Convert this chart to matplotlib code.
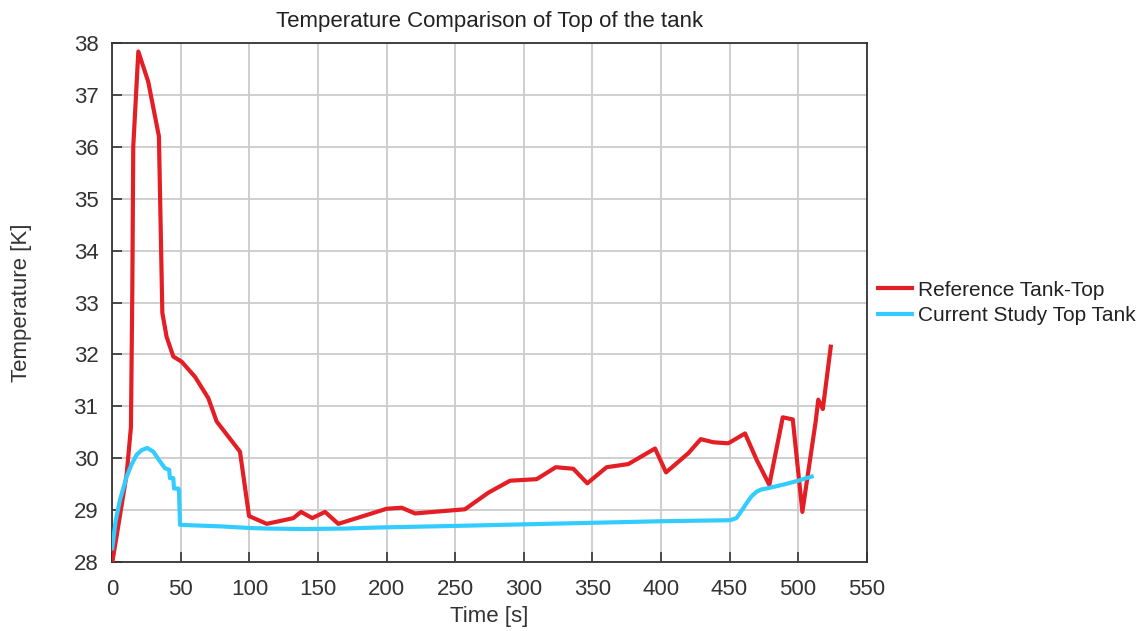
import matplotlib
matplotlib.use("Agg")
import matplotlib.pyplot as plt
from matplotlib import font_manager

# Reference tank-top temperature
ref_time = [0.0, 5.0, 10.5, 13.6, 14.6, 15.3, 19.0, 26.2, 34.0, 36.5, 39.6, 44.5,
            50.6, 60.3, 70.0, 76.1, 93.1, 99.7, 112.6, 132.0, 137.6, 145.8, 155.1,
            164.8, 185.5, 200.0, 211.0, 220.7, 257.1, 274.2, 290.0, 309.4, 323.3,
            336.1, 346.3, 360.4, 376.2, 395.7, 403.7, 420.0, 429.0, 438.2, 449.1,
            461.3, 469.8, 479.0, 488.8, 496.1, 503.1, 512.8, 514.7, 518.0, 523.8]
ref_temp = [28.0, 28.8, 29.7, 30.6, 33.2, 36.0, 37.83, 37.25, 36.2, 32.8, 32.34, 31.96,
            31.86, 31.57, 31.16, 30.71, 30.13, 28.89, 28.74, 28.85, 28.97, 28.85, 28.97,
            28.74, 28.91, 29.03, 29.05, 28.94, 29.02, 29.34, 29.57, 29.60, 29.83,
            29.80, 29.52, 29.83, 29.89, 30.19, 29.73, 30.10, 30.37, 30.31, 30.29,
            30.48, 29.97, 29.49, 30.79, 30.75, 28.97, 30.71, 31.13, 30.95, 32.15]

# Current study top-tank temperature
cur_time = [0.0, 2.5, 5.6, 10.5, 14.0, 17.8, 21.5, 25.5, 29.9, 34.0, 38.4, 41.5,
            42.0, 44.5, 45.0, 48.1, 48.6, 49.4, 60.0, 80.0, 100.0, 112.6, 140.0,
            170.0, 195.0, 250.0, 300.0, 350.0, 400.0, 450.3, 455.0, 458.5, 462.5,
            466.0, 469.8, 473.0, 477.0, 490.0, 500.0, 509.9]
cur_temp = [28.27, 28.8, 29.2, 29.65, 29.88, 30.07, 30.16, 30.2, 30.13, 29.97, 29.81, 29.78,
            29.62, 29.62, 29.42, 29.42, 29.39, 28.72, 28.71, 28.69, 28.66, 28.65, 28.64,
            28.65, 28.67, 28.70, 28.73, 28.76, 28.79, 28.81, 28.85, 28.98, 29.14,
            29.27, 29.36, 29.40, 29.42, 29.50, 29.57, 29.65]

x_ticks = list(range(0, 551, 50))
y_ticks = list(range(28, 39))

names = {f.name for f in font_manager.fontManager.ttflist}
base_font = "Liberation Sans" if "Liberation Sans" in names else "DejaVu Sans"
plt.rcParams["font.family"] = [base_font, "DejaVu Sans"]

text_color = "#333333"

fig = plt.figure(figsize=(11.41, 6.31), dpi=100)
ax = fig.add_axes([0.0984, 0.1089, 0.6612, 0.8234])

ax.plot(ref_time, ref_temp, color="#e31e24", lw=3.0, label="Reference Tank-Top",
        solid_joinstyle="round", zorder=3)
ax.plot(cur_time, cur_temp, color="#33ccff", lw=3.0, label="Current Study Top Tank",
        solid_joinstyle="round", zorder=3)

ax.set_xlim(0, 550)
ax.set_ylim(28, 38)
ax.set_xticks(x_ticks)
ax.set_yticks(y_ticks)
ax.grid(True, color="#cccccc", lw=1.3)
ax.set_axisbelow(True)
ax.tick_params(direction="in", length=7, width=1.2, color="#333333",
               labelsize=16, labelcolor=text_color)
ax.tick_params(axis="x", pad=12)
ax.tick_params(axis="y", pad=10)
for s in ax.spines.values():
    s.set_color("#333333")
    s.set_linewidth(1.3)

ax.set_xlabel("Time [s]", fontsize=16, color=text_color, labelpad=4)
ax.set_ylabel("Temperature [K]", fontsize=16, color=text_color, labelpad=30)
ax.set_title("Temperature Comparison of Top of the tank", fontsize=16,
             color="#222222", pad=11)

fig.legend(loc="center left", bbox_to_anchor=(0.7695, 0.52), frameon=False,
           borderpad=0, borderaxespad=0,
           fontsize=15, handlelength=1.65, handletextpad=0.25, labelspacing=0.3,
           labelcolor="#222222")

fig.savefig("out.png", dpi=100, facecolor="white")
